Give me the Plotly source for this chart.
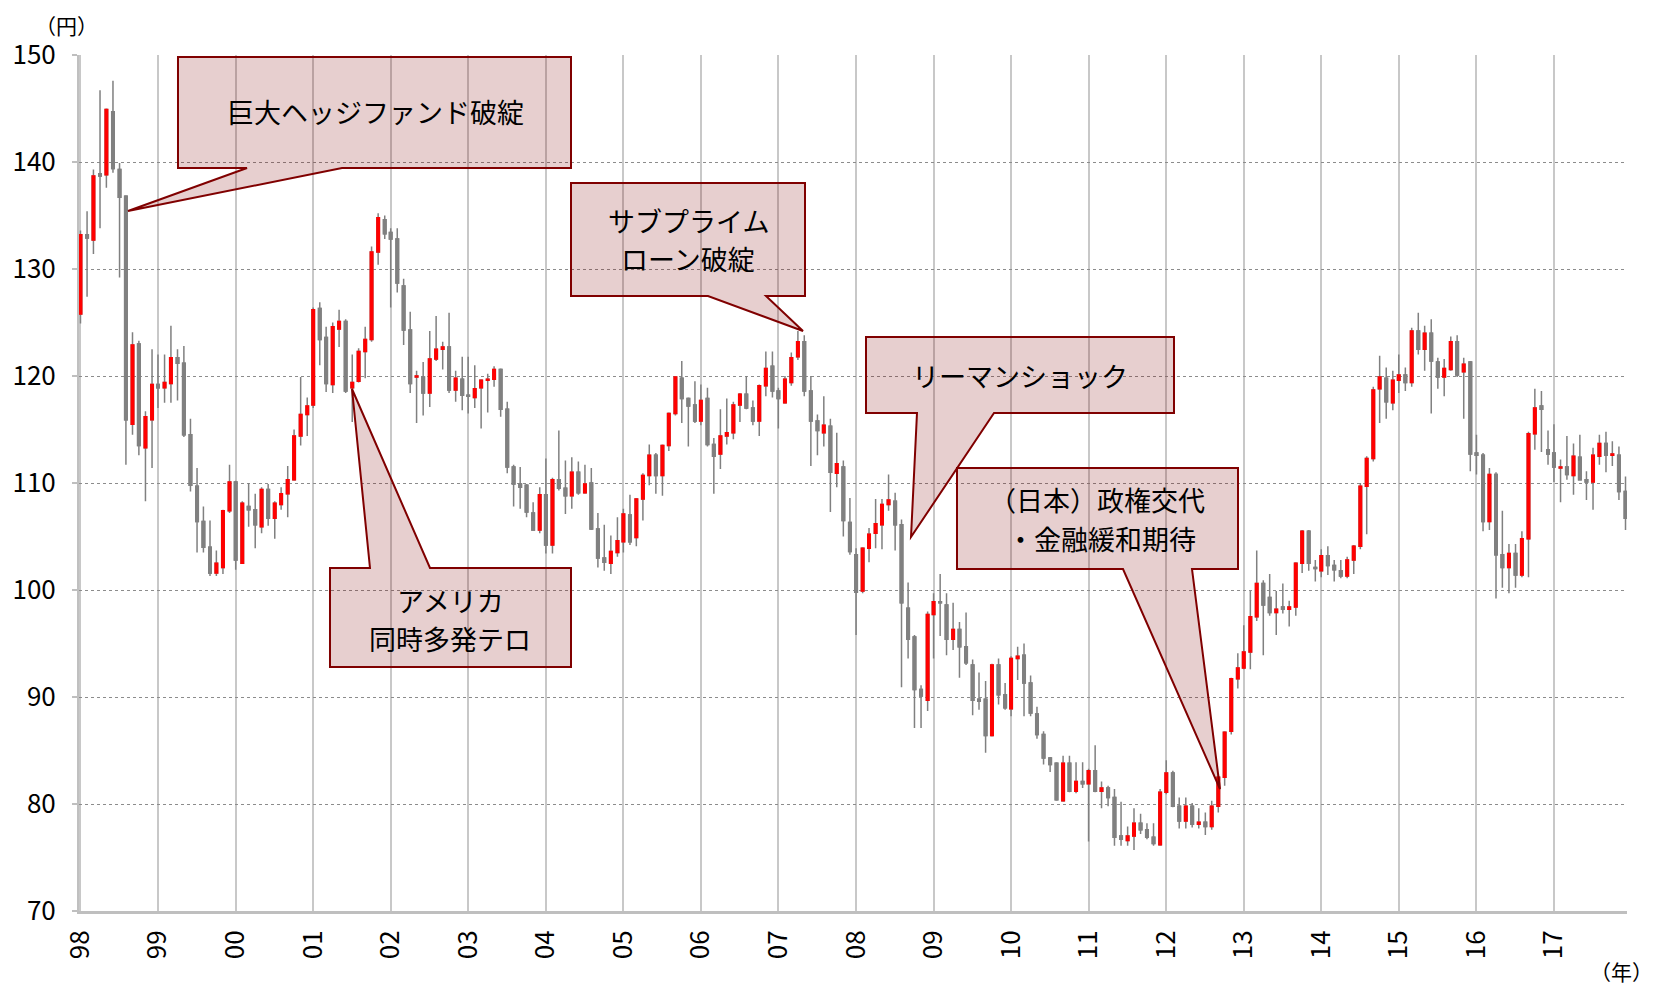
import plotly.graph_objects as go
import pandas as pd

# ---------------- data (USD/JPY monthly candles, Mar 1998 - Feb 2018) ----------------
START_MONTH = "1998-03-01"

OPEN = [
    125.8, 133.2, 132.7, 138.9, 138.8, 144.7, 139.3, 136.8, 115.5, 123.0,
    113.3, 115.9, 119.2, 118.9, 119.3, 121.7, 121.2, 114.5, 109.7, 106.4,
    104.0, 101.6, 102.1, 107.4, 110.1, 102.5, 107.8, 107.5, 105.9, 109.4,
    106.7, 108.0, 109.0, 110.3, 114.4, 116.4, 117.3, 126.3, 123.6, 119.2,
    124.4, 125.1, 118.9, 119.5, 122.3, 123.4, 131.6, 134.6, 133.4, 132.8,
    128.4, 124.3, 119.9, 119.9, 118.4, 121.6, 122.5, 122.7, 118.7, 119.7,
    118.2, 118.0, 118.9, 119.6, 119.7, 120.6, 116.9, 111.5, 109.9, 109.8,
    107.2, 105.6, 108.9, 104.2, 110.3, 109.5, 108.8, 111.0, 109.1, 110.0,
    105.7, 103.0, 102.5, 103.5, 104.5, 107.0, 104.9, 108.5, 110.7, 112.6,
    110.7, 113.5, 116.5, 119.8, 117.9, 117.3, 115.8, 117.9, 113.6, 112.7,
    114.4, 114.7, 117.3, 118.3, 117.0, 115.8, 119.1, 120.9, 118.6, 117.5,
    119.4, 121.8, 123.2, 118.6, 115.8, 114.7, 115.3, 110.9, 111.5, 106.3,
    103.3, 99.9, 103.9, 105.3, 106.1, 108.0, 108.3, 106.1, 98.3, 95.6,
    90.7, 89.7, 97.7, 98.9, 98.6, 95.4, 96.3, 94.7, 93.0, 89.8,
    89.8, 86.4, 93.0, 90.2, 88.9, 93.6, 93.9, 91.3, 88.4, 86.5,
    84.3, 83.8, 80.3, 83.8, 81.2, 82.1, 81.9, 83.1, 81.2, 81.5,
    80.6, 77.0, 76.6, 77.0, 78.2, 77.6, 76.9, 76.2, 81.1, 82.9,
    79.8, 78.4, 79.8, 78.1, 78.3, 77.9, 79.8, 82.5, 86.8, 91.7,
    92.7, 94.2, 97.5, 100.6, 99.3, 97.9, 98.4, 98.2, 98.4, 102.5,
    105.5, 102.1, 101.8, 103.2, 102.3, 101.8, 101.3, 102.8, 104.1, 109.7,
    112.3, 118.8, 119.8, 117.5, 119.6, 120.1, 119.4, 124.2, 122.5, 124.0,
    121.3, 119.9, 120.6, 123.2, 120.4, 121.3, 112.8, 112.6, 106.4, 110.8,
    103.3, 102.1, 103.4, 101.4, 104.8, 114.6, 117.2, 113.1, 112.8, 111.4,
    111.5, 110.7, 112.4, 110.3, 110.1, 112.5, 113.7, 112.6, 112.6, 109.2,
]
HIGH = [
    133.6, 135.4, 139.3, 146.7, 145.0, 147.6, 139.9, 136.9, 124.1, 123.3,
    116.7, 122.5, 122.0, 122.0, 124.7, 122.5, 122.8, 116.0, 111.4, 107.8,
    106.5, 103.7, 107.5, 111.7, 110.2, 108.3, 110.0, 109.0, 109.6, 109.9,
    108.3, 109.6, 111.6, 115.0, 119.9, 118.0, 126.4, 126.9, 124.6, 125.0,
    126.2, 125.3, 122.0, 122.6, 124.6, 132.1, 135.2, 135.0, 133.8, 133.8,
    129.1, 126.0, 120.5, 121.3, 124.2, 125.6, 123.2, 125.9, 120.5, 121.8,
    121.8, 121.0, 119.7, 120.2, 120.9, 120.7, 117.6, 111.7, 111.5, 109.9,
    108.2, 109.6, 112.3, 110.5, 114.9, 112.1, 112.4, 112.0, 111.7, 111.4,
    107.2, 106.1, 105.1, 106.8, 107.6, 108.9, 108.6, 110.9, 113.6, 112.8,
    113.6, 116.6, 120.0, 121.4, 118.0, 119.5, 119.2, 118.9, 114.2, 116.9,
    117.9, 117.6, 118.4, 120.0, 117.7, 119.2, 122.3, 122.3, 118.9, 120.0,
    122.2, 124.2, 123.8, 120.0, 116.4, 118.1, 116.0, 114.7, 112.1, 108.6,
    103.9, 104.0, 105.8, 108.5, 108.5, 110.8, 109.1, 106.6, 100.7, 95.8,
    91.1, 98.0, 99.7, 101.5, 99.7, 98.8, 97.0, 97.9, 93.5, 92.3,
    91.5, 93.1, 93.6, 91.3, 93.8, 94.7, 95.0, 92.0, 89.1, 86.8,
    84.4, 83.9, 84.5, 84.5, 83.9, 83.9, 83.3, 85.5, 82.1, 81.7,
    81.4, 80.2, 77.9, 79.6, 79.1, 78.2, 78.2, 81.4, 84.1, 83.1,
    80.6, 80.6, 80.1, 79.6, 79.2, 80.3, 82.8, 86.8, 91.8, 94.1,
    96.7, 99.9, 103.7, 100.9, 101.5, 99.9, 100.6, 99.0, 102.6, 105.6,
    105.6, 102.8, 103.8, 104.1, 102.8, 102.8, 103.1, 104.2, 110.0, 112.5,
    119.0, 121.9, 120.8, 120.5, 122.0, 120.8, 124.5, 125.9, 124.7, 125.3,
    121.7, 121.6, 123.7, 123.8, 121.7, 121.4, 114.5, 112.8, 111.4, 111.0,
    107.4, 104.3, 104.3, 105.5, 114.8, 118.8, 118.6, 114.9, 115.5, 112.2,
    114.4, 113.7, 114.5, 111.1, 113.3, 114.5, 114.8, 113.9, 113.4, 110.6,
]
LOW = [
    124.9, 127.4, 131.4, 133.8, 137.6, 139.0, 129.2, 111.7, 114.5, 112.6,
    108.3, 111.4, 117.0, 117.5, 117.5, 117.7, 114.3, 109.2, 103.5, 103.5,
    101.3, 101.3, 101.5, 107.2, 101.9, 102.5, 105.9, 103.9, 105.3, 106.0,
    104.8, 107.5, 106.8, 110.2, 113.5, 114.4, 117.0, 121.0, 118.5, 118.4,
    122.7, 118.4, 115.7, 119.4, 119.8, 123.2, 130.4, 132.8, 126.4, 127.8,
    122.9, 118.4, 115.6, 116.3, 117.1, 121.4, 120.6, 118.4, 117.6, 116.8,
    116.5, 117.0, 115.1, 116.6, 119.0, 116.2, 110.9, 107.8, 107.6, 106.8,
    105.6, 105.3, 103.4, 103.4, 109.3, 107.1, 107.6, 108.9, 109.0, 105.6,
    102.1, 101.8, 101.5, 103.1, 103.5, 104.2, 104.1, 106.5, 109.8, 109.0,
    108.8, 113.0, 116.3, 115.6, 113.4, 115.6, 115.4, 113.4, 109.0, 111.3,
    113.6, 114.1, 115.7, 116.9, 115.4, 114.4, 118.1, 118.0, 115.1, 117.4,
    119.1, 121.5, 118.1, 111.6, 112.6, 113.4, 107.3, 109.6, 105.0, 103.3,
    95.8, 99.7, 102.6, 103.9, 103.8, 107.4, 103.7, 90.9, 93.6, 87.1,
    87.1, 88.7, 93.6, 95.7, 93.9, 94.4, 91.8, 93.0, 88.3, 88.8,
    84.8, 86.3, 89.3, 88.8, 88.2, 91.6, 88.2, 88.2, 86.1, 83.7,
    83.0, 80.3, 80.2, 81.1, 81.0, 81.5, 76.5, 81.1, 79.6, 79.8,
    76.1, 76.1, 76.1, 75.7, 77.2, 76.7, 76.1, 76.1, 80.9, 79.7,
    77.7, 77.7, 77.8, 77.7, 77.1, 77.6, 79.2, 81.7, 86.5, 90.8,
    92.6, 92.6, 97.1, 93.9, 97.6, 95.8, 97.8, 96.6, 97.6, 101.6,
    101.8, 100.8, 101.2, 101.4, 100.8, 101.1, 101.1, 101.5, 103.8, 105.2,
    112.0, 115.6, 116.0, 116.8, 118.4, 118.6, 119.0, 122.0, 120.5, 116.5,
    118.8, 118.1, 120.5, 119.9, 116.0, 111.1, 110.8, 105.5, 105.6, 99.2,
    100.2, 99.7, 100.2, 101.2, 101.2, 113.1, 112.9, 111.7, 110.1, 108.2,
    110.3, 108.9, 110.3, 108.4, 107.5, 111.7, 111.0, 111.6, 108.4, 105.6,
]
CLOSE = [
    133.2, 132.9, 138.7, 138.7, 144.9, 139.4, 136.7, 115.9, 122.9, 113.5,
    116.2, 119.2, 118.9, 119.4, 121.7, 121.2, 114.5, 109.8, 106.4, 104.0,
    101.6, 102.5, 107.4, 110.1, 102.8, 108.1, 107.5, 106.1, 109.4, 106.7,
    108.1, 109.0, 110.3, 114.4, 116.4, 117.2, 126.2, 123.4, 119.3, 124.6,
    125.1, 118.6, 119.4, 122.3, 123.4, 131.6, 134.8, 133.3, 132.8, 128.7,
    124.3, 119.3, 120.0, 118.4, 121.6, 122.5, 122.7, 118.7, 119.8, 118.2,
    118.1, 118.8, 119.6, 119.7, 120.6, 116.9, 111.5, 109.9, 109.6, 107.3,
    105.6, 108.9, 104.2, 110.3, 109.5, 108.8, 111.0, 109.1, 109.9, 105.7,
    103.0, 102.6, 103.6, 104.6, 107.1, 104.5, 108.5, 110.7, 112.6, 110.7,
    113.5, 116.5, 119.9, 117.9, 117.2, 115.8, 117.7, 113.6, 112.5, 114.4,
    114.7, 117.3, 118.3, 117.0, 115.8, 119.1, 120.7, 118.6, 117.9, 119.7,
    121.7, 123.2, 118.6, 115.8, 114.9, 115.4, 111.0, 111.8, 106.5, 103.6,
    99.8, 103.9, 105.2, 106.2, 108.0, 108.4, 106.1, 98.8, 95.4, 90.7,
    90.1, 97.7, 98.9, 98.8, 95.4, 96.3, 94.7, 93.2, 89.7, 89.6,
    86.4, 93.0, 90.2, 89.0, 93.6, 93.8, 91.3, 88.5, 86.5, 84.3,
    83.7, 80.4, 83.8, 81.2, 82.1, 81.9, 83.1, 81.2, 81.5, 80.6,
    76.9, 76.7, 77.0, 78.2, 77.6, 76.9, 76.3, 81.1, 82.9, 79.8,
    78.4, 79.8, 78.1, 78.3, 77.9, 79.8, 82.5, 86.7, 91.7, 92.7,
    94.2, 97.5, 100.6, 98.6, 97.9, 98.2, 98.2, 98.4, 102.5, 105.5,
    102.5, 102.0, 103.2, 102.3, 101.9, 101.3, 102.8, 104.1, 109.7, 112.3,
    118.7, 119.9, 117.6, 119.6, 120.1, 119.4, 124.2, 122.5, 124.0, 121.4,
    119.9, 120.7, 123.2, 120.1, 121.1, 112.7, 112.6, 106.4, 110.8, 103.3,
    102.1, 103.4, 101.4, 104.8, 114.6, 117.0, 116.9, 112.7, 111.5, 111.5,
    110.8, 112.5, 110.3, 110.1, 112.6, 113.7, 112.6, 112.7, 109.2, 106.7,
]

YEAR_TICKS = [f"{y}-03-01" for y in range(1998, 2018)]
YEAR_LABELS = ["98", "99", "00", "01", "02", "03", "04", "05", "06", "07",
               "08", "09", "10", "11", "12", "13", "14", "15", "16", "17"]
Y_TICKS = [70, 80, 90, 100, 110, 120, 130, 140, 150]

months = pd.date_range(START_MONTH, periods=len(OPEN), freq="MS")
BODY_HI = [max(o, c) for o, c in zip(OPEN, CLOSE)]
BODY_LO = [min(o, c) for o, c in zip(OPEN, CLOSE)]

# ---------------- styling ----------------
RED = "#FF0000"
GRAY = "#808080"
FONT = "Noto Sans CJK JP"
PAGE_W, PAGE_H = 1657, 988
OFF = 8                          # default body margin of the html page
W, H = PAGE_W - OFF, PAGE_H - OFF
L, R, T, B = 79, 1627, 55, 911   # plot area in page pixels (reference)


def px(x):
    return (x - L) / (R - L)


def py(y):
    return (B - y) / (B - T)


def path(points):
    return "M " + " L ".join(f"{px(x):.5f},{py(y):.5f}" for x, y in points) + " Z"


fig = go.Figure()

# wicks (high-low) in gray
fig.add_trace(go.Candlestick(
    x=months, open=OPEN, high=HIGH, low=LOW, close=CLOSE,
    increasing=dict(line=dict(color=GRAY, width=1.5), fillcolor=GRAY),
    decreasing=dict(line=dict(color=GRAY, width=1.5), fillcolor=GRAY),
    whiskerwidth=0, hoverinfo="skip", name="wick",
))
# bodies: red when up, gray when down
fig.add_trace(go.Candlestick(
    x=months, open=OPEN, high=BODY_HI, low=BODY_LO, close=CLOSE,
    increasing=dict(line=dict(color=RED, width=1.5), fillcolor=RED),
    decreasing=dict(line=dict(color=GRAY, width=1.5), fillcolor=GRAY),
    whiskerwidth=0, name="USD/JPY",
))

# callout balloons (pixel outlines of the reference)
callouts = [
    [(178, 57), (571, 57), (571, 168), (342, 168), (128, 211), (247, 168), (178, 168)],
    [(330, 568), (370, 568), (352, 389), (430, 568), (571, 568), (571, 667), (330, 667)],
    [(571, 183), (805, 183), (805, 296), (766, 296), (803, 331), (708, 296), (571, 296)],
    [(866, 337), (1174, 337), (1174, 413), (994, 413), (911, 537), (917, 413), (866, 413)],
    [(957, 468), (1238, 468), (1238, 569), (1192, 569), (1220, 789), (1123, 569), (957, 569)],
]
shapes = []
for pts in callouts:
    shapes.append(dict(type="path", xref="paper", yref="paper", path=path(pts),
                       fillcolor="rgba(128,0,0,0.19)",
                       line=dict(color="#800000", width=2), layer="above"))

# one annotation per text line (centre pixel positions from the reference)
texts = [
    ("巨大ヘッジファンド破綻", 375, 112),
    ("アメリカ", 450, 600),
    ("同時多発テロ", 450, 638),
    ("サブプライム", 688, 220),
    ("ローン破綻", 688, 258),
    ("リーマンショック", 1020, 375),
    ("（日本）政権交代", 1097, 500),
    ("・金融緩和期待", 1101, 538),
]
annotations = []
for t, x, y in texts:
    annotations.append(dict(text=t, x=px(x), y=py(y), xref="paper", yref="paper",
                            showarrow=False, xanchor="center", yanchor="middle",
                            font=dict(family=FONT, size=27, color="black")))
annotations.append(dict(text="（円）", x=px(66), y=py(OFF), xref="paper", yref="paper",
                        showarrow=False, xanchor="center", yanchor="top",
                        font=dict(family=FONT, size=21, color="black")))
annotations.append(dict(text="（年）", x=px(1655), y=py(971), xref="paper", yref="paper",
                        showarrow=False, xanchor="right", yanchor="middle",
                        font=dict(family=FONT, size=21, color="black")))

fig.update_layout(
    width=W, height=H,
    margin=dict(l=L - OFF, r=PAGE_W - R, t=T - OFF, b=PAGE_H - B, autoexpand=False),
    paper_bgcolor="white", plot_bgcolor="white",
    showlegend=False, boxgap=0.4,
    font=dict(family=FONT, color="black"),
    shapes=shapes, annotations=annotations,
    xaxis=dict(
        type="date", range=["1998-02-22", "2018-02-08"],
        tickmode="array", tickvals=YEAR_TICKS, ticktext=YEAR_LABELS,
        tickangle=-90, tickfont=dict(family=FONT, size=26, color="black"),
        ticks="", ticklabelstandoff=6, automargin=False,
        showgrid=True, gridcolor="#c8c8c8", gridwidth=2,
        showline=True, linecolor="#bfbfbf", linewidth=3,
        zeroline=False, rangeslider=dict(visible=False), fixedrange=True,
    ),
    yaxis=dict(
        range=[70, 150], tickmode="array", tickvals=Y_TICKS,
        tickfont=dict(family=FONT, size=26, color="black"),
        ticks="outside", ticklen=5, tickcolor="#bfbfbf", tickwidth=2,
        ticklabelstandoff=11, automargin=False,
        showgrid=True, gridcolor="#8c8c8c", griddash="dot", gridwidth=1,
        showline=True, linecolor="#c0c0c0", linewidth=2,
        zeroline=False, fixedrange=True,
    ),
)

fig.write_html("out.html")
